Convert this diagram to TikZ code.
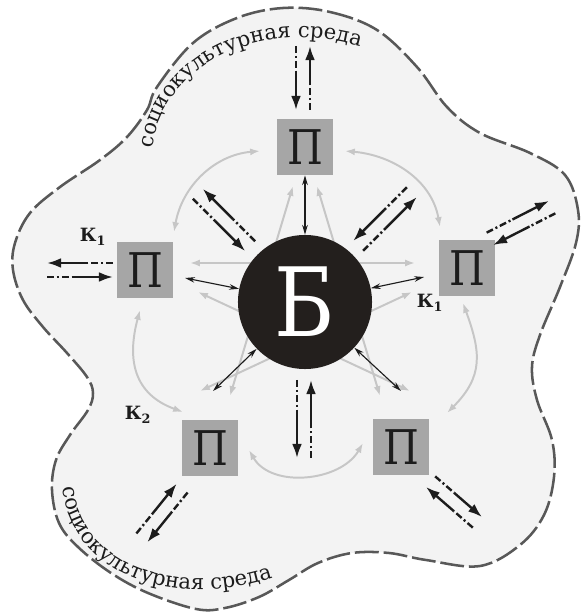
\documentclass[tikz,border=0pt]{standalone}
\usepackage{fontspec}
\setmainfont{DejaVu Serif}
\newfontfamily\letterfont{DejaVu Serif}[FakeStretch=0.86]
\usepackage{tikz}
\usetikzlibrary{
    arrows.meta,
    decorations.text
}
\definecolor{Cenv}{RGB}{243, 243, 243}
\definecolor{Cedge}{RGB}{88, 88, 88}
\definecolor{Cbox}{RGB}{166, 166, 166}
\definecolor{Cgrey}{RGB}{198, 198, 198}
\definecolor{Ccore}{RGB}{35, 31, 29}
\definecolor{Cink}{RGB}{28, 28, 28}
\tikzset{
    envline/.style={
        draw=Cedge, fill=Cenv, line width=1.8pt, dash pattern=on 17pt off 3.5pt
    },
    pbox/.style={
        rectangle, fill=Cbox, minimum size=1.4cm, inner sep=0pt,
        text=Cink, font=\letterfont\fontsize{34}{34}\selectfont
    },
    bcore/.style={
        circle, fill=Ccore, minimum size=3.35cm, inner sep=0pt,
        text=white, font=\letterfont\fontsize{68}{68}\selectfont
    },
    klabel/.style={font=\fontsize{13}{13}\selectfont\bfseries, text=Cink, inner sep=0pt},
    flow/.style={line width=1.7pt, Cink},
    flowtip/.style={-{Latex[length=10pt, width=7pt]}},
    dashdot/.style={dash pattern=on 5pt off 2pt on 1.5pt off 2pt},
    garr/.style={{Latex[length=7pt, width=5pt]}-{Latex[length=7pt, width=5pt]}, line width=1.4pt, Cgrey},
    tarr/.style={{Stealth[length=7pt, width=4pt]}-{Stealth[length=7pt, width=4pt]}, line width=0.8pt, Cink},
    envtext/.style={decorate, decoration={text along path, text align=center, text color=Cink,
        text={|\fontsize{15}{15}\selectfont|#1}}},
}
% пара встречных потоков: центр, угол наружу, сторона (+1/-1), полудлина
\newcommand{\flowpair}[4]{%
    \begin{scope}[shift={#1}, rotate=#2, yscale=#3]
        \coordinate (fo1) at (-#4,-7); \coordinate (fm1) at (-6,-7); \coordinate (fi1) at (#4,-7);
        \coordinate (fo2) at (#4,7);   \coordinate (fm2) at (6,7);   \coordinate (fi2) at (-#4,7);
        \draw [flow, dashdot] (fo1) -- (fm1);
        \draw [flow, flowtip] (fm1) -- (fi1);
        \draw [flow, dashdot] (fo2) -- (fm2);
        \draw [flow, flowtip] (fm2) -- (fi2);
    \end{scope}}

\begin{document}
\begin{tikzpicture}[x=0.025cm, y=0.025cm]
    \useasboundingbox (0,0) rectangle (581,614);

    % ── социокультурная среда ─────────────────────────────
    \draw [envline] plot[smooth cycle, tension=0.6] coordinates {
        (283,606) (330,602) (377,584) (417,547) (447,507) (480,481) (530,461)
        (565,439) (578,404) (576,371) (560,327) (540,279) (532,247) (537,214)
        (552,174) (554,137) (544,99) (520,69) (480,48) (426,54) (389,61)
        (352,61) (318,51) (289,34) (259,17) (225,6) (196,5) (148,21) (111,41)
        (78,67) (59,91) (52,124) (56,154) (70,179) (88,204) (93,221) (87,237)
        (67,261) (43,287) (23,314) (13,344) (15,371) (30,401) (60,427)
        (100,454) (127,477) (147,504) (157,527) (193,571) (237,596)};

    \path [envtext={социокультурная среда}] (152,464) .. controls (160,544) and (255,599) .. (362,567);
    \path [envtext={социокультурная среда}] (62,132) .. controls (66,50) and (160,-2) .. (278,38);

    % ── пять П ────────────────────────────────────────────
    \node [pbox] (Ptop)   at (305,467) {П};
    \node [pbox] (Pleft)  at (145,344) {П};
    \node [pbox] (Pright) at (467,346) {П};
    \node [pbox] (Pbl)    at (210,166) {П};
    \node [pbox] (Pbr)    at (401,167) {П};

    % ── звезда (серые связи) ──────────────────────────────
    \coordinate (sTopL)   at (293,428);
    \coordinate (sTopR)   at (317,428);
    \coordinate (sLeftH)  at (190,351);
    \coordinate (sLeftD)  at (198,322);
    \coordinate (sRightH) at (415,351);
    \coordinate (sRightD) at (412,322);
    \coordinate (sBlT)    at (230,218);
    \coordinate (sBlR)    at (200,223);
    \coordinate (sBrT)    at (380,218);
    \coordinate (sBrL)    at (410,223);
    \draw [garr] (sLeftH) -- (sRightH);
    \draw [garr] (sTopL) -- (sBlT);
    \draw [garr] (sTopR) -- (sBrT);
    \draw [garr] (sLeftD) -- (sBrL);
    \draw [garr] (sRightD) -- (sBlR);

    % ── дуги между соседними П ────────────────────────────
    \coordinate (aLeftT)  at (174,382);
    \coordinate (aTopL)   at (260,463);
    \coordinate (aTopR)   at (345,463);
    \coordinate (aRightT) at (440,387);
    \coordinate (aRightB) at (463,311);
    \coordinate (aBrT)    at (447,201);
    \coordinate (aBrL)    at (363,171);
    \coordinate (aBlR)    at (249,164);
    \coordinate (aBlT)    at (183,202);
    \coordinate (aLeftB)  at (140,304);
    \draw [garr] (aLeftT) to[out=80, in=185] (aTopL);
    \draw [garr] (aTopR) to[out=-5, in=100] (aRightT);
    \draw [garr] (aRightB) to[out=-70, in=45, looseness=1.2] (aBrT);
    \draw [garr] (aBrL) to[out=-120, in=-60] (aBlR);
    \draw [garr] (aBlT) to[out=160, in=-105, looseness=1.2] (aLeftB);

    % ── центр Б ───────────────────────────────────────────
    \node [bcore] (B) at (305,312) {Б};

    \coordinate (tBl) at (213,223);
    \coordinate (tBr) at (401,223);
    \draw [tarr] (B) -- (Ptop);
    \draw [tarr, shorten >=0.3cm] (B) -- (Pleft);
    \draw [tarr, shorten >=0.375cm] (B) -- (Pright);
    \draw [tarr] (B) -- (tBl);
    \draw [tarr] (B) -- (tBr);

    % ── встречные потоки ──────────────────────────────────
    \flowpair{(303,536)}{90}{1}{32}
    \flowpair{(80,344)}{180}{1}{33}
    \flowpair{(521,391)}{27}{-1}{35}
    \flowpair{(454,112)}{-41}{-1}{31}
    \flowpair{(162,101)}{231}{-1}{32}
    \flowpair{(224,394)}{135}{1}{37}
    \flowpair{(385,395)}{45}{1}{38}
    \flowpair{(304,195)}{-90}{1}{39}

    % ── метки К ───────────────────────────────────────────
    \node [klabel] (k1l) at (93,377) {К\textsubscript{1}};
    \node [klabel] (k1r) at (430,311) {К\textsubscript{1}};
    \node [klabel] (k2)  at (138,199) {К\textsubscript{2}};

\end{tikzpicture}
\end{document}
